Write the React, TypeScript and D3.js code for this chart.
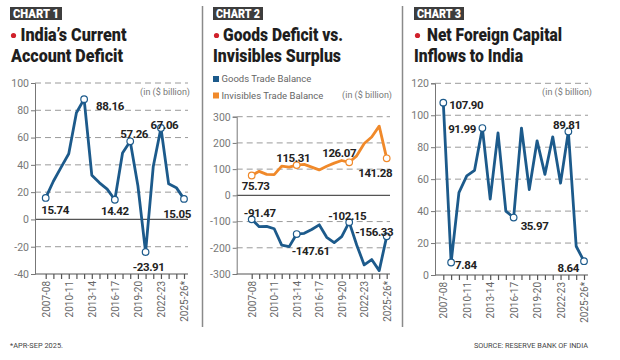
import React, { useEffect, useRef } from 'react';
import * as d3 from 'd3';

const years = ['2007-08', '2008-09', '2009-10', '2010-11', '2011-12', '2012-13', '2013-14', '2014-15', '2015-16', '2016-17',
  '2017-18', '2018-19', '2019-20', '2020-21', '2021-22', '2022-23', '2023-24', '2024-25', '2025-26*'];
const shownYears = ['2007-08', '2010-11', '2013-14', '2016-17', '2019-20', '2022-23', '2025-26*'];

const cadValues = [15.74, 28, 38.2, 48.1, 78.2, 88.16, 32.4, 26.8, 22.2, 14.42, 48.7, 57.26, 24.7, -23.91, 38.8, 67.06, 26.1, 23.3, 15.05];
const goodsValues = [-91.47, -119.5, -118.4, -127.3, -189.8, -195.7, -147.61, -144.9, -130.1, -112.4, -160.0, -180.3, -157.5, -102.15, -189.5, -265.3, -244.9, -287.2, -156.33];
const invisiblesValues = [75.73, 91.6, 80.0, 79.3, 111.6, 107.5, 115.31, 118.1, 107.9, 97.1, 111.3, 123.0, 132.9, 126.07, 150.7, 198.0, 222.8, 264.0, 141.28];
const capitalValues = [107.9, 7.84, 51.6, 62.0, 65.5, 91.99, 47.5, 89.0, 40.0, 35.97, 92.0, 53.5, 84.0, 63.0, 86.5, 57.5, 89.81, 18.0, 8.64];

const cadTicks = [-40, -20, 0, 20, 40, 60, 80, 100];
const tradeTicks = [-300, -200, -100, 0, 100, 200, 300];
const capitalTicks = [0, 20, 40, 60, 80, 100, 120];

const BLUE = '#1c5a8b';
const ORANGE = '#f0892a';
const FONT = 'Roboto, "Noto Sans", sans-serif';

// label offsets from the point: [index, dx, dy, anchor]
type Note = [number, number, number, string];

const panels = [
  {
    badge: 'CHART 1', badgeX: 10, badgeW: 52,
    title: ['India\u2019s Current', 'Account Deficit'], titleX: [20.5, 11], titleW: [106, 112],
    axisX: 35, x0: 45.7, x1: 184, right: 188, y0: 274, y1: 83,
    domain: [-40, 100], ticks: cadTicks, zeroLine: true,
    unitX: 190, unitY: 95,
    series: [{
      values: cadValues, color: BLUE,
      notes: [[0, -4.5, 12, 'start'], [5, 12, 7, 'start'], [9, 0, 11, 'middle'], [11, 4, -7, 'middle'],
        [13, 3, 14.5, 'middle'], [15, 3.5, -3, 'middle'], [18, -7, 15, 'middle']] as Note[],
    }],
  },
  {
    badge: 'CHART 2', badgeX: 213, badgeW: 50,
    title: ['Goods Deficit vs.', 'Invisibles Surplus'], titleX: [223, 213], titleW: [120, 128],
    axisX: 236.7, x0: 251.7, x1: 386.7, right: 390, y0: 274, y1: 116.7,
    domain: [-300, 300], ticks: tradeTicks, zeroLine: true,
    unitX: 392, unitY: 98,
    legend: true,
    series: [
      {
        values: invisiblesValues, color: ORANGE,
        notes: [[0, 4, 11, 'middle'], [6, -3.5, -7, 'middle'], [13, -10, -9.5, 'middle'], [18, -11.5, 15, 'middle']] as Note[],
      },
      {
        values: goodsValues, color: BLUE,
        notes: [[0, 8, -6.5, 'middle'], [6, 14, 17, 'middle'], [13, -2, -6.5, 'middle'], [18, -12.5, -4, 'middle']] as Note[],
      },
    ],
  },
  {
    badge: 'CHART 3', badgeX: 414, badgeW: 50,
    title: ['Net Foreign Capital', 'Inflows to India'], titleX: [427, 414], titleW: [135, 109],
    axisX: 435, x0: 443.3, x1: 584, right: 588, y0: 275, y1: 83.3,
    domain: [0, 120], ticks: capitalTicks, zeroLine: false,
    unitX: 592, unitY: 95,
    series: [{
      values: capitalValues, color: BLUE,
      notes: [[0, 6, 2.5, 'start'], [5, -6.5, 1, 'end'], [9, 7, 8.5, 'start'], [1, 4, 3, 'start'],
        [16, -1.5, -6.5, 'middle'], [18, -5, 6.5, 'end']] as Note[],
    }],
  },
];

export default function App() {
  const ref = useRef<SVGSVGElement>(null);

  useEffect(() => {
    const svg = d3.select(ref.current);
    svg.selectAll('*').remove();

    // panel separators
    [202.5, 402.5].forEach(x => {
      svg.append('line').attr('x1', x).attr('x2', x).attr('y1', 6).attr('y2', 327)
        .attr('stroke', '#8a8a8a').attr('stroke-width', 1.5);
    });

    panels.forEach(p => {
      const g = svg.append('g');

      // header
      g.append('rect').attr('x', p.badgeX).attr('y', 7).attr('width', p.badgeW).attr('height', 13).attr('fill', '#3d3d3d');
      g.append('text').attr('x', p.badgeX + 3).attr('y', 18).text(p.badge)
        .attr('fill', '#fff').attr('font-family', FONT).attr('font-weight', 900).attr('font-size', 12.5)
        .attr('textLength', p.badgeW - 6).attr('lengthAdjust', 'spacingAndGlyphs');
      g.append('circle').attr('cx', p.badgeX + 3.5).attr('cy', 35.5).attr('r', 2.6).attr('fill', '#d0202a');
      p.title.forEach((t, i) => {
        g.append('text').attr('x', p.titleX[i]).attr('y', i === 0 ? 40.5 : 62).text(t)
          .attr('fill', '#1e1e1e').attr('font-family', FONT).attr('font-weight', 900).attr('font-size', 18)
          .attr('textLength', p.titleW[i]).attr('lengthAdjust', 'spacingAndGlyphs');
      });

      const x = d3.scalePoint<string>().domain(years).range([p.x0, p.x1]);
      const y = d3.scaleLinear().domain(p.domain).range([p.y0, p.y1]);

      // grid
      p.ticks.forEach(t => {
        const isBase = t === p.domain[0];
        const isZero = t === 0 && p.zeroLine;
        g.append('line').attr('x1', p.axisX).attr('x2', p.right).attr('y1', y(t)).attr('y2', y(t))
          .attr('stroke', isBase || isZero ? '#555' : '#9a9a9a')
          .attr('stroke-width', isBase || isZero ? 1.2 : 1)
          .attr('stroke-dasharray', isBase || isZero ? null : '6,4');
      });

      // y axis
      const yAxis = g.append('g').attr('transform', `translate(${p.axisX},0)`)
        .call(d3.axisLeft(y).tickValues(p.ticks).tickSize(4).tickPadding(2).tickFormat(d => String(d)));
      yAxis.select('.domain').attr('stroke', '#777');
      yAxis.selectAll('.tick line').attr('stroke', '#777');
      yAxis.selectAll('text').attr('fill', '#777').attr('font-family', FONT).attr('font-size', 10.5);

      // x axis
      const xAxis = g.append('g').attr('transform', `translate(0,${p.y0})`)
        .call(d3.axisBottom(x).tickSize(5).tickPadding(4)
          .tickFormat(d => (shownYears.includes(d) ? d : '')));
      xAxis.select('.domain').remove();
      xAxis.selectAll('.tick line').attr('stroke', '#555').attr('stroke-width', 1.2);
      xAxis.selectAll('text')
        .attr('transform', 'rotate(-90)').attr('text-anchor', 'end')
        .attr('x', -7).attr('y', 0).attr('dy', '0.35em')
        .attr('fill', '#666').attr('font-family', FONT).attr('font-size', 10);

      // unit note
      g.append('text').attr('x', p.unitX).attr('y', p.unitY).attr('text-anchor', 'end')
        .text('(in ($ billion)').attr('fill', '#777').attr('font-family', FONT).attr('font-size', 9);

      if (p.legend) {
        [['Goods Trade Balance', BLUE, 79], ['Invisibles Trade Balance', ORANGE, 95.5]].forEach(([label, c, ly]) => {
          g.append('rect').attr('x', 213).attr('y', +ly - 3).attr('width', 6).attr('height', 6).attr('fill', c as string);
          g.append('text').attr('x', 221.5).attr('y', +ly + 3.3).text(label as string)
            .attr('fill', '#666').attr('font-family', FONT).attr('font-size', 9.5);
        });
      }

      // lines, markers, value labels
      p.series.forEach(s => {
        const line = d3.line<number>().x((_, i) => x(years[i])!).y(d => y(d));
        g.append('path').datum(s.values).attr('d', line)
          .attr('fill', 'none').attr('stroke', s.color).attr('stroke-width', 2.8).attr('stroke-linejoin', 'round');

        s.notes.forEach(([i, dx, dy, anchor]) => {
          const px = x(years[i])!;
          const py = y(s.values[i]);
          g.append('circle').attr('cx', px).attr('cy', py).attr('r', 3.3)
            .attr('fill', '#fff').attr('stroke', s.color).attr('stroke-width', 1.2);
          g.append('text').attr('x', px + dx).attr('y', py + dy + 4).attr('text-anchor', anchor)
            .text(s.values[i].toFixed(2))
            .attr('fill', '#222').attr('font-family', FONT).attr('font-weight', 700)
            .attr('font-size', 11.5).attr('letter-spacing', -0.4);
        });
      });
    });

    // footer
    svg.append('text').attr('x', 10).attr('y', 347.5).text('*APR-SEP 2025.')
      .attr('fill', '#444').attr('font-family', FONT).attr('font-size', 7)
      .attr('textLength', 53).attr('lengthAdjust', 'spacingAndGlyphs');
    svg.append('text').attr('x', 474).attr('y', 347.5).text('SOURCE: RESERVE BANK OF INDIA')
      .attr('fill', '#444').attr('font-family', FONT).attr('font-size', 7)
      .attr('textLength', 114).attr('lengthAdjust', 'spacingAndGlyphs');
  }, []);

  return (
    <svg ref={ref} width={620} height={360}
      style={{ position: 'absolute', left: 0, top: 0, background: '#fff' }} />
  );
}
